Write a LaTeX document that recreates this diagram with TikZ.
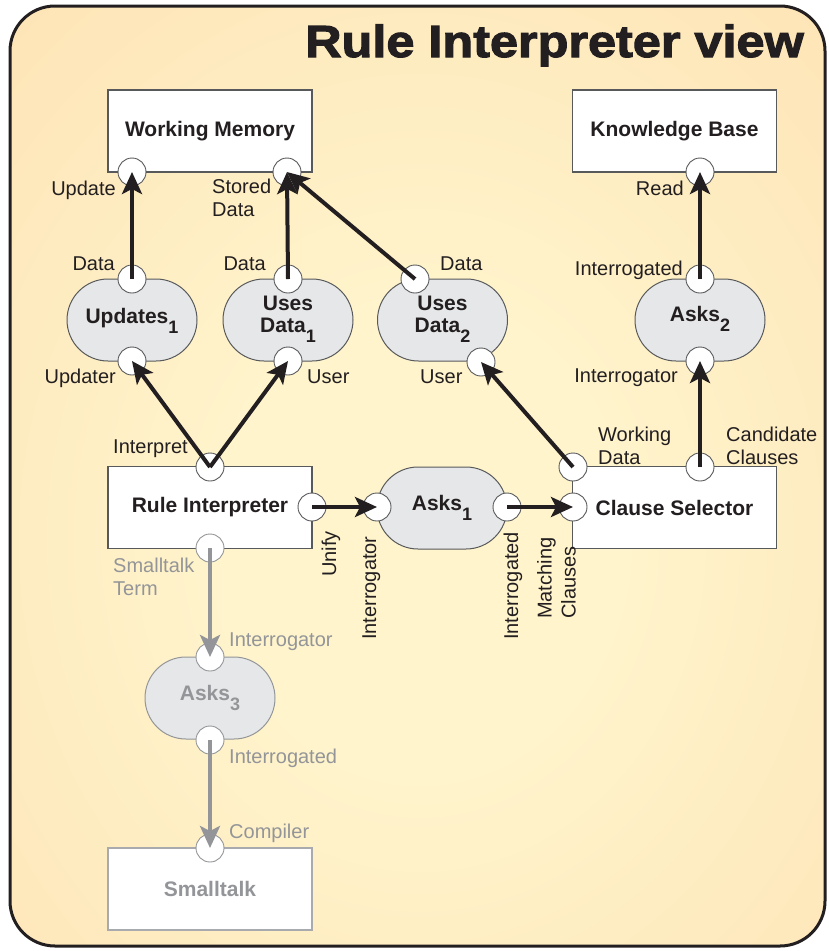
\documentclass[tikz,border=0pt]{standalone}
\usepackage{fontspec}
\setmainfont{Liberation Sans}
\newfontfamily\titlefont{Liberation Sans}[BoldFeatures={FakeBold=2.5,FakeStretch=1.12}]
\usetikzlibrary{arrows.meta,shapes.misc}
\definecolor{ink}{HTML}{231F20}
\definecolor{gry}{HTML}{939598}
\definecolor{bline}{HTML}{58595B}
\definecolor{blobfill}{HTML}{E6E7E8}
\definecolor{bgin}{HTML}{FFF4CC}
\definecolor{bgmid}{HTML}{FDDDAC}
\definecolor{bgout}{HTML}{FBCC93}
\pgfdeclareradialshading{bgshade}{\pgfpoint{0bp}{0bp}}{color(0bp)=(bgin); color(8bp)=(bgin); color(33bp)=(bgmid); color(50bp)=(bgout)}
\newcommand\lsub[1]{\raisebox{-10pt}{\fontsize{18}{18}\selectfont #1}}
\begin{document}
\begin{tikzpicture}[x=1pt,y=-1pt,
  lbl/.style={font=\fontsize{20}{23}\selectfont, text=ink, inner sep=0pt},
  glbl/.style={lbl, text=gry},
  bx/.style={draw=bline, fill=white, line width=1.2pt, minimum width=204pt, minimum height=82pt, inner sep=0pt, font=\bfseries\fontsize{21}{24}\selectfont, text=ink},
  gbx/.style={bx, draw=gry!80, text=gry},
  blob/.style={rounded rectangle, draw=bline, fill=blobfill, line width=1pt, minimum width=130pt, minimum height=82pt, inner sep=0pt},
  gblob/.style={blob, draw=gry},
  btxt/.style={font=\bfseries\fontsize{21}{22}\selectfont, text=ink, inner sep=0pt, align=center},
  gbtxt/.style={btxt, text=gry},
  port/.style={circle, draw=bline, fill=white, line width=0.9pt, minimum size=28pt, inner sep=0pt},
  gport/.style={port, draw=gry},
  conn/.style={line width=4pt, draw=ink, fill=ink, -{Stealth[length=22pt,width=20pt,inset=5pt]}},
  gconn/.style={line width=4pt, draw=gry, fill=gry, -{Stealth[length=22pt,width=20pt,inset=5pt]}}]
\useasboundingbox (0,0) rectangle (829,951);
% background
\begin{scope}
  \clip[rounded corners=45pt] (10,6) rectangle (825,946);
  \fill[bgout] (0,0) rectangle (829,951);
  \shade[shading=bgshade] (420,540) ellipse [x radius=620pt, y radius=720pt];
\end{scope}
\draw[line width=3pt, rounded corners=45pt, draw=ink] (10,6) rectangle (825,946);
\node[anchor=base east, inner sep=0pt, text=ink, font=\titlefont\bfseries\fontsize{45}{50}\selectfont] (title) at (804,57) {Rule Interpreter view};
% boxes
\node[bx] (wm) at (210,131) {Working Memory};
\node[bx] (kb) at (674.5,131) {Knowledge Base};
\node[bx] (ri) at (210,507.5) {Rule Interpreter};
\node[bx] (cs) at (674.5,507.5) {Clause Selector};
\node[gbx] (st) at (210,889) {Smalltalk};
% blobs
\node[blob] (b-upd1) at (132,320) {};
\node[blob] (b-use1) at (288,320) {};
\node[blob] (b-use2) at (442.5,320) {};
\node[blob] (b-ask2) at (700,320) {};
\node[blob] (b-ask1) at (442,508) {};
\node[gblob] (b-ask3) at (210,698) {};
\node[btxt, anchor=base] (upd1) at (132,323) {Updates\lsub{1}};
\node[btxt, anchor=north] (use1) at (288,296) {Uses\\Data\lsub{1}};
\node[btxt, anchor=north] (use2) at (442.5,296) {Uses\\Data\lsub{2}};
\node[btxt, anchor=base] (ask1) at (442,510) {Asks\lsub{1}};
\node[btxt, anchor=base] (ask2) at (700,321) {Asks\lsub{2}};
\node[gbtxt, anchor=base] (ask3) at (210,700) {Asks\lsub{3}};
% ports
\node[port] (p-wmU) at (132,172) {};
\node[port] (p-wmS) at (287,172) {};
\node[port] (p-kbR) at (700,172) {};
\node[port] (p-u1t) at (132,279) {};
\node[port] (p-u1b) at (132,361) {};
\node[port] (p-d1t) at (288,279) {};
\node[port] (p-d1b) at (288,361) {};
\node[port] (p-d2t) at (415,279) {};
\node[port] (p-d2b) at (481,362) {};
\node[port] (p-a2t) at (700,279) {};
\node[port] (p-a2b) at (700,361) {};
\node[port] (p-rit) at (210,467) {};
\node[port] (p-rir) at (312,507) {};
\node[gport] (p-rib) at (210,548) {};
\node[port] (p-a1l) at (377,507) {};
\node[port] (p-a1r) at (507,507) {};
\node[port] (p-csw) at (573,467) {};
\node[port] (p-csc) at (700,467) {};
\node[port] (p-csl) at (573,507) {};
\node[gport] (p-a3t) at (210,657) {};
\node[gport] (p-a3b) at (210,740) {};
\node[gport] (p-stc) at (210,848) {};
% connectors
\draw[conn] (p-u1t.center) -- (p-wmU.center);
\draw[conn] (p-d1t.center) -- (p-wmS.center);
\draw[conn] (p-d2t.center) -- (p-wmS.center);
\draw[conn] (p-rit.center) -- (p-u1b.center);
\draw[conn] (p-rit.center) -- (p-d1b.center);
\draw[conn] (p-rir.center) -- (p-a1l.center);
\draw[conn] (p-a1r.center) -- (p-csl.center);
\draw[conn] (p-csw.center) -- (p-d2b.center);
\draw[conn] (p-csc.center) -- (p-a2b.center);
\draw[conn] (p-a2t.center) -- (p-kbR.center);
\draw[gconn] (p-rib.center) -- (p-a3t.center);
\draw[gconn] (p-a3b.center) -- (p-stc.center);
% labels
\node[lbl, anchor=base east] (l-upd) at (116,195) {Update};
\node[lbl, anchor=north west, align=left] (l-stored) at (212,178.5) {Stored\\Data};
\node[lbl, anchor=base east] (l-read) at (684,195) {Read};
\node[lbl, anchor=base east] (l-u1data) at (115,270) {Data};
\node[lbl, anchor=base east] (l-updater) at (116,383) {Updater};
\node[lbl, anchor=base east] (l-d1data) at (266,270) {Data};
\node[lbl, anchor=base west] (l-d1user) at (307,383) {User};
\node[lbl, anchor=base west] (l-d2data) at (440,270) {Data};
\node[lbl, anchor=base west] (l-d2user) at (420,383) {User};
\node[lbl, anchor=base east] (l-a2t) at (683,275) {Interrogated};
\node[lbl, anchor=base east] (l-a2b) at (678,382) {Interrogator};
\node[lbl, anchor=base west] (l-interp) at (113,453) {Interpret};
\node[lbl, anchor=north west, align=left] (l-wd) at (598,427) {Working\\Data};
\node[lbl, anchor=north west, align=left] (l-cc) at (726,427) {Candidate\\Clauses};
\node[glbl, anchor=north west, align=left] (l-stterm) at (113,557.5) {Smalltalk\\Term};
\node[lbl, rotate=90, anchor=base west] (l-unify) at (336,577) {Unify};
\node[lbl, rotate=90, anchor=base west] (l-a1l) at (376,640) {Interrogator};
\node[lbl, rotate=90, anchor=base west] (l-a1r) at (518,640) {Interrogated};
\node[lbl, rotate=90, anchor=north west, align=left, font=\fontsize{20}{24}\selectfont] (l-match) at (537,619) {Matching\\Clauses};
\node[glbl, anchor=base west] (l-a3t) at (229,646) {Interrogator};
\node[glbl, anchor=base west] (l-a3b) at (229,763) {Interrogated};
\node[glbl, anchor=base west] (l-comp) at (229,838) {Compiler};
\end{tikzpicture}
\end{document}
